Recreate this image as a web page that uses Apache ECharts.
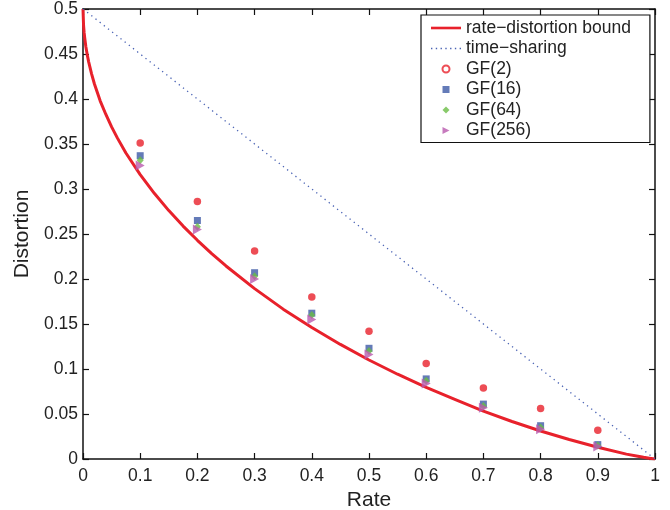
<!DOCTYPE html>
<html>
<head>
<meta charset="utf-8">
<script src="https://cdn.jsdelivr.net/npm/echarts@6/dist/echarts.min.js"></script>
<style>
html,body{margin:0;padding:0;background:#fff;}
#chart{width:670px;height:510px;}
</style>
</head>
<body>
<div id="chart"></div>
<script>
// Rate-distortion bound (values read/tabulated)
var rdRate = [0, 0.001, 0.002, 0.003, 0.005, 0.0075, 0.01, 0.015, 0.02, 0.03, 0.04, 0.05, 0.06, 0.075, 0.1, 0.125, 0.15, 0.175, 0.2, 0.225, 0.25, 0.3, 0.35, 0.4, 0.45, 0.5, 0.55, 0.6, 0.65, 0.7, 0.75, 0.8, 0.85, 0.9, 0.95, 0.97, 0.98, 0.99, 1];
var rdDist = [0.5, 0.4814, 0.4737, 0.4678, 0.458, 0.449, 0.441, 0.428, 0.4167, 0.398, 0.3828, 0.369, 0.3568, 0.340, 0.316, 0.2949, 0.276, 0.2588, 0.243, 0.2282, 0.2145, 0.1893, 0.1665, 0.1461, 0.1273, 0.110, 0.0942, 0.0795, 0.0663, 0.0531, 0.0417, 0.0311, 0.0216, 0.0130, 0.0054, 0.0031, 0.0019, 0.0009, 0];
var tsRate = [0, 1];
var tsDist = [0.5, 0];
var rates = [0.1, 0.2, 0.3, 0.4, 0.5, 0.6, 0.7, 0.8, 0.9];
var gf2   = [0.351, 0.286, 0.231, 0.180, 0.142, 0.106, 0.079, 0.056, 0.032];
var gf16  = [0.337, 0.265, 0.207, 0.162, 0.123, 0.089, 0.061, 0.037, 0.016];
var gf64  = [0.332, 0.258, 0.203, 0.160, 0.120, 0.087, 0.059, 0.035, 0.015];
var gf256 = [0.326, 0.255, 0.200, 0.155, 0.116, 0.084, 0.057, 0.033, 0.014];
var seriesNames = ['rate\u2212distortion bound', 'time\u2212sharing', 'GF(2)', 'GF(16)', 'GF(64)', 'GF(256)'];

function pairs(xs, ys){ return xs.map(function(x,i){ return [x, ys[i]]; }); }

var chart = echarts.init(document.getElementById('chart'), null, {renderer:'canvas'});
var font = 'Liberation Sans, Arial, Helvetica, sans-serif';
var axisCommon = {
  axisLine:{show:true, onZero:false, lineStyle:{color:'#111', width:1.5}},
  axisTick:{show:true, inside:true, length:6, lineStyle:{color:'#111', width:1.2}},
  splitLine:{show:false}
};
var triPath = 'path://M0,0 L10,5 L0,10 Z';
var sqPath = 'path://M0,0 L10,0 L10,10 L0,10 Z';
var diaPath = 'path://M5,0 L10,5 L5,10 L0,5 Z';
var solidLinePath = 'path://M0,0 L30,0 L30,2.6 L0,2.6 Z';
var dotParts = [];
for (var k = 0; k < 7; k++) { var x0 = 1 + k * 4.5; dotParts.push('M' + x0 + ',0 L' + (x0 + 1.3) + ',0 L' + (x0 + 1.3) + ',1.3 L' + x0 + ',1.3 Z'); }
var dottedLinePath = 'path://' + dotParts.join(' ');

chart.setOption({
  animation:false,
  backgroundColor:'#fff',
  grid:{left:83, top:9, right:15, bottom:51, containLabel:false, outerBoundsMode:'none'},
  legend:{
    orient:'vertical', left:421, top:15,
    backgroundColor:'#fff', borderColor:'#111', borderWidth:1.2,
    padding:[3,19,2,10], itemWidth:30, itemHeight:7, itemGap:0.5,
    textStyle:{fontFamily:font, fontSize:17.5, color:'#222', lineHeight:20},
    data:[
      {name:seriesNames[0], icon:solidLinePath},
      {name:seriesNames[1], icon:dottedLinePath},
      {name:seriesNames[2], icon:'emptyCircle', itemStyle:{borderWidth:2}},
      {name:seriesNames[3], icon:sqPath},
      {name:seriesNames[4], icon:diaPath},
      {name:seriesNames[5], icon:triPath}
    ]
  },
  xAxis:[
    Object.assign({type:'value', min:0, max:1, interval:0.1, position:'bottom',
      name:'Rate', nameLocation:'middle', nameGap:27,
      nameTextStyle:{fontFamily:font, fontSize:21, color:'#222'},
      axisLabel:{fontFamily:font, fontSize:17.5, color:'#222', margin:8}}, axisCommon),
    Object.assign({type:'value', min:0, max:1, interval:0.1, position:'top',
      axisLabel:{show:false}}, axisCommon)
  ],
  yAxis:[
    Object.assign({type:'value', min:0, max:0.5, interval:0.05, position:'left',
      name:'Distortion', nameLocation:'middle', nameGap:46,
      nameTextStyle:{fontFamily:font, fontSize:21, color:'#222'},
      axisLabel:{fontFamily:font, fontSize:17.5, color:'#222', margin:5}}, axisCommon),
    Object.assign({type:'value', min:0, max:0.5, interval:0.05, position:'right',
      axisLabel:{show:false}}, axisCommon)
  ],
  series:[
    {name:seriesNames[0], type:'line', data:pairs(rdRate, rdDist), showSymbol:false, symbol:'none',
      smooth:false, color:'#e8212b', lineStyle:{color:'#e8212b', width:3, join:'round'}, z:2},
    {name:seriesNames[1], type:'line', data:pairs(tsRate, tsDist), showSymbol:false, symbol:'none',
      color:'#4a63b4', lineStyle:{color:'#4a63b4', width:1.3, type:[1.3,4]}, z:2},
    {name:seriesNames[2], type:'scatter', data:pairs(rates, gf2), symbol:'circle', symbolSize:7.5,
      itemStyle:{color:'#e8212b'}, z:3},
    {name:seriesNames[3], type:'scatter', data:pairs(rates, gf16), symbol:'rect', symbolSize:7,
      itemStyle:{color:'#3d5aa6'}, z:4},
    {name:seriesNames[4], type:'scatter', data:pairs(rates, gf64), symbol:'diamond', symbolSize:[7,8],
      itemStyle:{color:'#6abd45'}, z:5},
    {name:seriesNames[5], type:'scatter', data:pairs(rates, gf256), symbol:triPath, symbolSize:[9,10],
      itemStyle:{color:'#b95aae'}, z:6}
  ]
});
</script>
</body>
</html>
